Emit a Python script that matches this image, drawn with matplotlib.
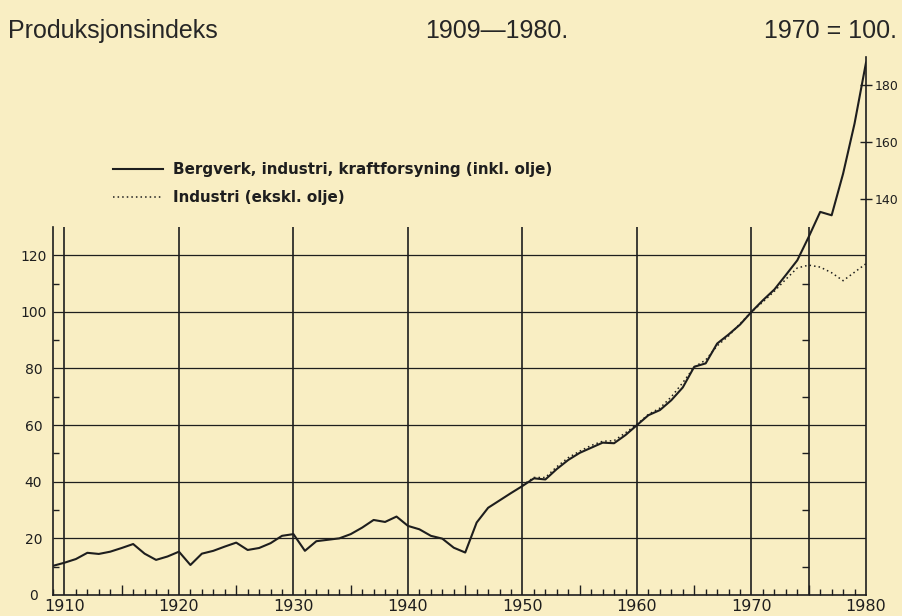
import numpy as np
import matplotlib
matplotlib.use('agg')
import matplotlib.pyplot as plt

# Produksjonsindeks 1909-1980, 1970 = 100
years = list(range(1909, 1981))
total = [10.3, 11.4, 12.7, 14.9, 14.5, 15.3, 16.6, 18.0, 14.6, 12.4,
         13.6, 15.3, 10.6, 14.6, 15.6, 17.1, 18.5, 15.9, 16.6, 18.3,
         20.9, 21.5, 15.6, 19.0, 19.5, 20.0, 21.5, 23.8, 26.5, 25.8,
         27.7, 24.4, 23.2, 20.9, 19.9, 16.7, 15.0, 25.6, 30.8, 33.4,
         36.0, 38.5, 41.2, 40.8, 44.5, 47.7, 50.2, 52.0, 53.8, 53.6,
         56.5, 60.0, 63.5, 65.3, 68.8, 73.3, 80.6, 81.8, 88.8, 92.0,
         95.5, 100.0, 104.1, 107.9, 113.0, 118.2, 126.5, 135.3, 134.1, 148.8,
         166.5, 188.0]
ind_years = list(range(1950, 1981))
industri = [38.8, 41.5, 41.5, 45.3, 48.5, 50.8, 52.8, 54.3, 54.5, 57.3,
            60.3, 63.8, 66.0, 70.0, 75.0, 80.5, 83.0, 88.0, 91.5, 95.8,
            100.0, 103.5, 107.3, 111.5, 115.5, 116.5, 115.8, 113.8, 111.0, 114.0,
            117.0]

label_total = "Bergverk, industri, kraftforsyning (inkl. olje)"
label_ind = "Industri (ekskl. olje)"
decades = [1910, 1920, 1930, 1940, 1950, 1960, 1970, 1980]
left_ticks = [0, 20, 40, 60, 80, 100, 120]
right_ticks = [140, 160, 180]

paper = '#f9eec3'
ink = '#1e1e1e'

fig = plt.figure(figsize=(9.02, 6.16), dpi=100, facecolor=paper)
ax = fig.add_axes([53 / 902, 21 / 616, 813 / 902, 538 / 616])
ax.set_facecolor(paper)
ax.set_xlim(1909, 1980)
ax.set_ylim(0, 190)

# grid drawn like the printed chart
ax.hlines(left_ticks[1:], 1909, 1980, color=ink, lw=0.9, zorder=1)
ax.vlines(decades[:-1] + [1975], 0, 130, color=ink, lw=1.2, zorder=1)

ax.plot(years, total, color=ink, lw=1.5, label=label_total, zorder=3)
ax.plot(ind_years, industri, color=ink, lw=1.1, ls=(0, (1, 2)),
        label=label_ind, zorder=2)

ax.spines['top'].set_visible(False)
ax.spines['left'].set_bounds(0, 130)
for s in ['left', 'right', 'bottom']:
    ax.spines[s].set_color(ink)
    ax.spines[s].set_linewidth(1.2)

ax.set_xticks(decades)
ax.set_xticklabels([str(d) for d in decades], family='DejaVu Sans', size=11.5)
ax.set_xticks([y for y in years if y % 5 != 0], minor=True)
ax.tick_params(axis='x', which='major', length=0, pad=3, colors=ink)
ax.tick_params(axis='x', which='minor', direction='in', length=4, width=1.0, color=ink)

ax.set_yticks(left_ticks)
ax.set_yticklabels([str(v) for v in left_ticks], family='DejaVu Sans', size=10)
for lab in ax.get_yticklabels():
    lab.set_horizontalalignment('center')
ax.set_yticks(list(range(10, 130, 20)), minor=True)
ax.tick_params(axis='y', which='major', length=0, pad=14, colors=ink)
ax.tick_params(axis='y', which='minor', direction='in', length=4, width=1.0, color=ink)

# taller 5-year ticks
sec_x = ax.secondary_xaxis('bottom')
sec_x.set_xticks(list(range(1915, 1980, 10)))
sec_x.set_xticklabels([])
sec_x.tick_params(direction='in', length=7, width=1.0, color=ink)
sec_x.spines['bottom'].set_visible(False)

# right-hand scale
sec_y = ax.secondary_yaxis('right')
sec_y.set_yticks(right_ticks)
sec_y.set_yticklabels([str(v) for v in right_ticks], family='DejaVu Sans', size=9)
sec_y.tick_params(direction='inout', length=9, width=1.0, color=ink, labelcolor=ink, pad=2)
sec_y.spines['right'].set_visible(False)

# small ticks along the 1975 line
mid_y = ax.secondary_yaxis((1975 - 1909) / 71)
mid_y.set_yticks(list(range(10, 130, 20)))
mid_y.set_yticklabels([])
mid_y.tick_params(direction='in', length=5, width=1.0, color=ink)
mid_y.spines[:].set_visible(False)

leg = ax.legend(loc='upper left', bbox_to_anchor=(113 / 902, 1 - 162 / 616),
                bbox_transform=fig.transFigure, frameon=False,
                borderaxespad=0, borderpad=0, handlelength=3.3,
                handletextpad=0.65, labelspacing=0.85,
                prop=dict(family='DejaVu Sans', weight='bold', size=10.9))
for t in leg.get_texts():
    t.set_color(ink)

title_font = dict(family='Liberation Sans', size=18, color='#262626')
fig.text(8 / 902, 1 - 31 / 616, "Produksjonsindeks", ha='left', va='center', **title_font)
fig.text(497 / 902, 1 - 31 / 616, "1909\u20141980.", ha='center', va='center', **title_font)
fig.text(897 / 902, 1 - 31 / 616, "1970 = 100.", ha='right', va='center', **title_font)

fig.savefig('out.png', dpi=100, facecolor=paper)
